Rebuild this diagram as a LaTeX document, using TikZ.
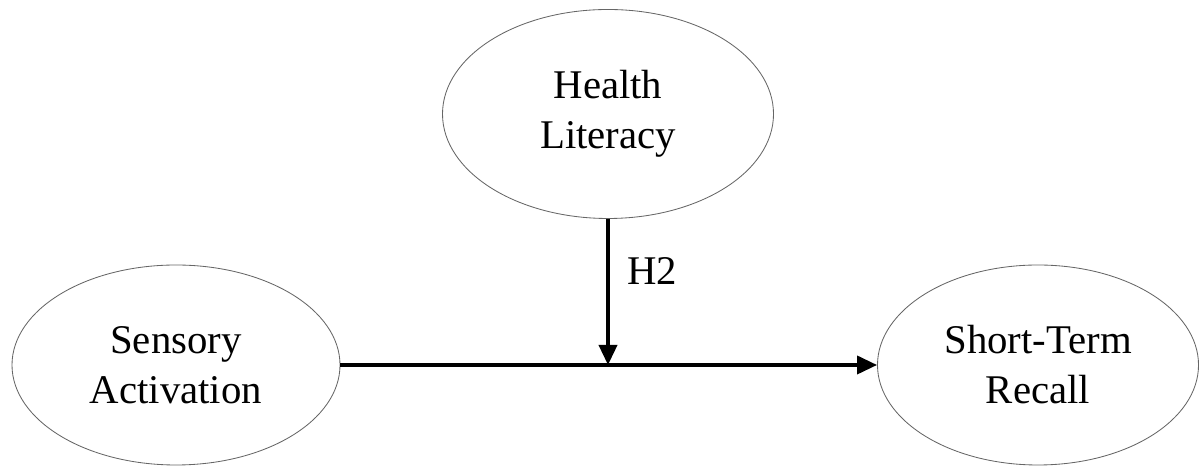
\documentclass[tikz,border=0pt]{standalone}
\usepackage{fontspec}
\setmainfont{Liberation Serif}
\usetikzlibrary{shapes.geometric,arrows.meta}
\newcommand{\lbl}{\fontsize{29}{35.5}\selectfont}

\begin{document}
\begin{tikzpicture}[
   var/.style={ellipse,draw=black!60,line width=0.6pt,inner sep=0pt,align=center,font=\lbl},
   path/.style={line width=2.6pt,-{Triangle[length=0.5cm,width=0.45cm]}}]
   \useasboundingbox (0,0) rectangle (29.975,11.675);
   \node[var,minimum width=8.275cm,minimum height=5.225cm] (hl) at (15.2,8.825) {Health\\Literacy};
   \node[var,minimum width=8.2cm,minimum height=5.0cm] (sa) at (4.4,2.55) {Sensory\\Activation};
   \node[var,minimum width=8.025cm,minimum height=5.0cm] (str) at (25.95,2.55) {Short-Term\\Recall};
   \coordinate (mid) at (hl.south |- sa.east);
   \draw[path] (sa.east) -- (str.west);
   \draw[path] (hl.south) -- (mid);
   \node[font=\lbl] (h2) at (16.3,4.9) {H2};
\end{tikzpicture}
\end{document}
